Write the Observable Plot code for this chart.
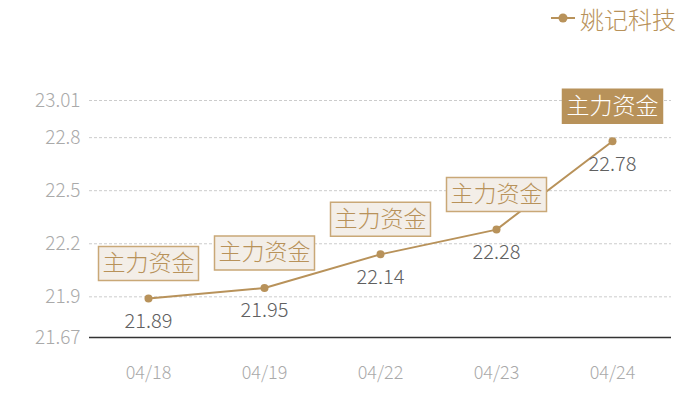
<!DOCTYPE html>
<html>
<head>
<meta charset="utf-8">
<script src="https://cdn.jsdelivr.net/npm/d3@7"></script>
<script src="https://cdn.jsdelivr.net/npm/@observablehq/plot@0.6"></script>
<style>
  body { margin: 0; background: #fff; font-family: "Noto Sans CJK SC", "Noto Sans", sans-serif; }
  #wrap { width: 700px; height: 400px; position: relative; overflow: hidden; }
  #legend { height: 36px; display: flex; justify-content: flex-end; align-items: center; padding-right: 24px; box-sizing: border-box; color: #b8925a; font-size: 24px; font-weight: 300; }
  #legend svg { margin-right: 5px; }
</style>
</head>
<body>
<div id="wrap">
  <div id="legend"></div>
  <div id="chart"></div>
</div>
<script>
const dates = ["04/18", "04/19", "04/22", "04/23", "04/24"];
const values = [21.89, 21.95, 22.14, 22.28, 22.78];
const flagLabels = ["主力资金", "主力资金", "主力资金", "主力资金", "主力资金"];
const highlighted = [false, false, false, false, true];
const yTicks = [21.67, 21.9, 22.2, 22.5, 22.8, 23.01];
const yDomain = [21.67, 23.01];
const seriesName = "姚记科技";

const gold = "#b8925a";
const data = dates.map((d, i) => ({date: d, value: values[i], label: flagLabels[i], hi: highlighted[i]}));

// legend
const legend = document.getElementById("legend");
legend.innerHTML = `<svg width="24" height="12"><line x1="0" y1="6" x2="24" y2="6" stroke="${gold}" stroke-width="2"/><circle cx="12" cy="6" r="4.5" fill="${gold}"/></svg><span>${seriesName}</span>`;

const boxSymbol = {
  draw(ctx) { ctx.rect(-50, -17, 100, 34); }
};

const chart = Plot.plot({
  width: 700,
  height: 364,
  marginLeft: 89,
  marginRight: 29,
  marginTop: 64,
  marginBottom: 63,
  style: {fontFamily: '"Noto Sans CJK SC", "Noto Sans", sans-serif', background: "transparent", fontWeight: 300},
  x: {type: "point", domain: dates, padding: 0.5},
  y: {domain: yDomain},
  marks: [
    Plot.ruleY(yTicks.slice(1), {stroke: "#cccccc", strokeDasharray: "3,2", strokeWidth: 1}),
    Plot.ruleY([yDomain[0]], {stroke: "#333333", strokeWidth: 1.5}),
    Plot.axisY({ticks: yTicks, tickFormat: d => String(d), tickSize: 0, tickPadding: 9, fontSize: 19, color: "#aaaaaa", label: null}),
    Plot.axisX({tickSize: 0, tickPadding: 29, fontSize: 18, color: "#aaaaaa", label: null}),
    Plot.lineY(data, {x: "date", y: "value", stroke: gold, strokeWidth: 2}),
    Plot.dot(data, {x: "date", y: "value", r: 4, fill: gold, stroke: "none"}),
    Plot.text(data, {x: "date", y: "value", text: d => d.value.toFixed(2), dy: 23, fontSize: 20, fill: "#606060"}),
    Plot.dot(data, {x: "date", y: "value", symbol: boxSymbol, r: 10, dy: -35,
      fill: d => d.hi ? gold : "#f3eee8", stroke: d => d.hi ? gold : "#c9a877", strokeWidth: 1.5}),
    Plot.text(data, {x: "date", y: "value", text: "label", dy: -35, fontSize: 23,
      fill: d => d.hi ? "#ffffff" : gold})
  ]
});
document.getElementById("chart").appendChild(chart);
</script>
</body>
</html>
